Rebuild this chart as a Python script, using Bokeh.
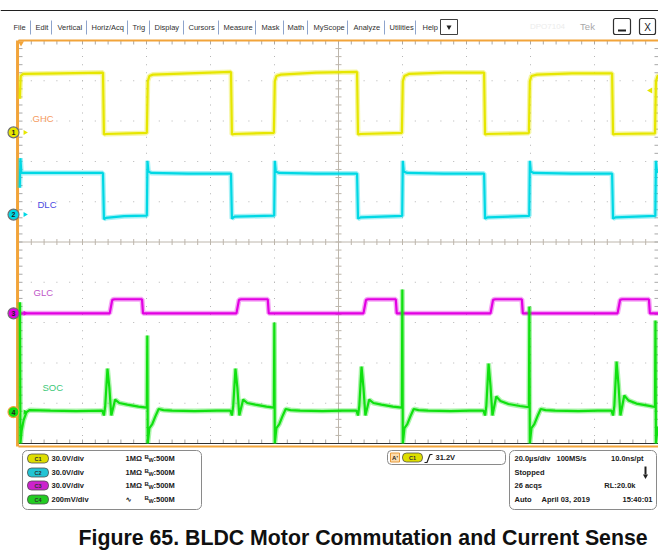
from bokeh.plotting import figure
from bokeh.models import Range1d
from bokeh.core.properties import value
from bokeh.embed import file_html
from bokeh.resources import INLINE
import numpy as np

# ---------------- data ----------------
TIME_PER_DIV_US = 20.0
N_HDIV = 10
N_VDIV = 10
CH_NAMES = ["GHC", "DLC", "GLC", "SOC"]
CH_SCALE = [30.0, 30.0, 30.0, 200.0]        # per division: V, V, V, mV
CH_POS_DIV = [2.72, 0.68, -1.77, -4.22]     # ground-marker position of each channel (div)
CH_COLOR = ["#e6e600", "#00d8e4", "#e200e2", "#10e010"]

# CH1  GHC (V)
GHC_T = [0.4, 0.7, 1.5, 13.0, 26.4, 26.7, 27.5, 40.1, 40.4, 40.9, 42.0, 53.0,
         66.4, 66.7, 67.5, 79.8, 80.1, 80.6, 82.0, 93.0, 105.8, 106.1, 107.0,
         119.8, 120.1, 120.6, 122.0, 133.0, 145.5, 145.8, 146.6, 159.5, 159.8,
         160.3, 162.0, 173.0, 185.5, 185.8, 186.6, 198.9, 199.2, 199.7, 201.0]
GHC_V = [25, 42, 43.5, 44, 44.5, -1.5, -1.2, -0.4, 38, 42, 43, 44,
         45, -1.5, -1.2, -0.4, 38, 42, 43, 44.5, 45, -1.5, -1.2,
         -0.4, 38, 42, 43.5, 44.5, 44.5, -1.5, -1.2, -0.5, 38,
         42, 43, 44, 44, -1.5, -1.2, -0.8, 38, 42, 43]

# CH2  DLC (V)
DLC_T = [0.4, 0.6, 0.9, 13.0, 26.4, 26.7, 27.3, 33.0, 40.1, 40.3, 40.6, 41.5,
         53.0, 66.4, 66.7, 67.5, 79.9, 80.1, 80.4, 81.5, 93.0, 105.8, 106.1,
         107.0, 119.9, 120.1, 120.4, 121.5, 133.0, 145.5, 145.8, 146.6, 159.6,
         159.8, 160.1, 161.0, 173.0, 185.5, 185.8, 186.6, 199.0, 199.2, 199.5, 200.5]
DLC_V = [20, 42, 31, 31, 31, -3.5, -2.5, -1.2, -0.8, 40, 32, 31,
         30.5, 30.5, -3, -1.5, -0.8, 40, 32, 31, 30.5, 30.5, -3,
         -2, -1, 40, 32, 31, 30.5, 30.5, -3, -2, -1,
         40, 32, 31, 30.5, 30.5, -3, -2, -1, 40, 32, 31]

# CH3  GLC (V)
GLC_T = [0.3, 28.5, 29.3, 30.0, 38.6, 38.9, 68.1, 68.9, 69.6, 77.9, 78.2,
         107.8, 108.6, 109.3, 117.9, 118.2, 147.5, 148.3, 149.0, 157.3, 157.6,
         187.2, 188.0, 188.7, 197.0, 197.3, 201.0]
GLC_V = [0, 0, 10, 10.5, 10.5, 0, 0, 10, 10.5, 10.5, 0,
         0, 10, 10.5, 10.5, 0, 0, 10, 10.5, 10.5, 0,
         0, 10, 10.5, 10.5, 0, 0]

# CH4  SOC (mV)
SOC_T = [0.45, 0.6, 1.0, 1.6, 2.5, 3.5,
         10, 18, 26.2, 26.7, 27.1, 27.8, 28.4, 29.0, 30.2, 31.5, 34.0, 37.5, 40.1, 40.25, 40.4, 40.9, 41.8, 42.8, 43.8, 45.3, 48.0,
         55, 62, 66.2, 66.7, 67.1, 67.8, 68.4, 69.0, 70.2, 71.5, 74.0, 77.5, 79.8, 79.95, 80.1, 80.6, 81.5, 82.5, 83.5, 85.0, 88.0,
         95, 101, 105.6, 106.1, 106.5, 107.2, 107.8, 108.4, 109.6, 110.9, 113.4, 117.0, 119.8, 119.95, 120.1, 120.6, 121.5, 122.5, 123.5, 125.0, 128.0,
         135, 141, 145.3, 145.8, 146.2, 146.9, 147.5, 148.1, 149.3, 150.6, 153.1, 156.7, 159.5, 159.65, 159.8, 160.3, 161.2, 162.2, 163.2, 164.7, 167.7,
         175, 181, 185.3, 185.8, 186.2, 186.9, 187.5, 188.1, 189.3, 190.6, 193.1, 196.7, 198.9, 199.05, 199.2, 199.7, 200.6]
SOC_MV = [545, -156, -90, -40, 0, 10,
          7, 5, 7, -17, 30, 216, 120, -17, 62, 45, 37, 27, 22, 380, -156, -80, -60, -20, 15, 10, 7,
          5, 7, 7, -17, 30, 216, 120, -17, 62, 45, 37, 27, 22, 444, -156, -80, -60, -20, 15, 10, 7,
          5, 7, 7, -17, 30, 226, 120, -17, 62, 45, 37, 27, 22, 608, -156, -80, -60, -20, 15, 10, 7,
          5, 7, 7, -17, 30, 241, 130, -17, 77, 55, 40, 30, 24, 524, -156, -80, -60, -20, 15, 10, 7,
          5, 7, 7, -17, 30, 251, 135, -17, 82, 58, 42, 32, 25, 454, -156, -80, -60]

TRACES = [(GHC_T, GHC_V), (DLC_T, DLC_V), (GLC_T, GLC_V), (SOC_T, SOC_MV)]

SETTINGS = [("C1", "30.0V/div", "1MΩ"), ("C2", "30.0V/div", "1MΩ"),
            ("C3", "30.0V/div", "1MΩ"), ("C4", "200mV/div", "∿")]
BANDWIDTH = "500M"
TRIG_LEVEL = "31.2V"
HORIZ = ["20.0µs/div", "100MS/s", "10.0ns/pt"]
ACQ = ["Stopped", "26 acqs", "RL:20.0k", "Auto", "April 03, 2019", "15:40:01"]
MENU = ["File", "Edit", "Vertical", "Horiz/Acq", "Trig", "Display", "Cursors",
        "Measure", "Mask", "Math", "MyScope", "Analyze", "Utilities", "Help"]
CAPTION = "Figure 65. BLDC Motor Commutation and Current Sense"

# ---------------- layout ----------------
W, H = 658, 554
PX_L, PX_T = 0, 0                      # canvas origin in screenshot pixels
GX0, GX1, GY0, GY1 = 18, 658, 40, 443  # graticule, screenshot pixels
us_per_px = TIME_PER_DIV_US * N_HDIV / (GX1 - GX0)
px_per_div = (GY1 - GY0) / N_VDIV
yc = (GY0 + GY1) / 2.0
T_END = TIME_PER_DIV_US * N_HDIV
HALF = N_VDIV / 2

p = figure(width=W, height=H, title=None,
           x_range=Range1d((PX_L - GX0) * us_per_px, (PX_L + W - GX0) * us_per_px),
           y_range=Range1d((yc - (PX_T + H)) / px_per_div, (yc - PX_T) / px_per_div),
           output_backend="svg", toolbar_location=None,
           x_axis_type=None, y_axis_type=None, min_border=0,
           outline_line_color=None, background_fill_color="white",
           border_fill_color="white")
p.extra_x_ranges = {"px": Range1d(PX_L, PX_L + W)}
p.extra_y_ranges = {"py": Range1d(PX_T + H, PX_T)}
PX = dict(x_range_name="px", y_range_name="py")

def txt(x, y, s, size, color="#202020", bold=False, align="left",
        font="Liberation Sans", baseline="middle"):
    p.text(x=[x], y=[y], text=[s], text_font=value(font),
           text_font_size=f"{size}px", text_color=color,
           text_font_style="bold" if bold else "normal",
           text_align=align, text_baseline=baseline, **PX)

# ---------------- graticule ----------------
GRID = "#b4b4b4"
minor_t = np.arange(0, T_END + 0.01, TIME_PER_DIV_US / 5)
minor_d = np.arange(-HALF, HALF + 0.01, 0.2)
vx, vy = [], []
for k in range(1, N_HDIV):
    if k == N_HDIV // 2:
        continue
    for d in minor_d:
        vx.append(k * TIME_PER_DIV_US); vy.append(d)
for k in range(-int(HALF) + 1, int(HALF)):
    if k == 0:
        continue
    for t in minor_t:
        vx.append(t); vy.append(k)
p.rect(vx, vy, width=1, height=1, width_units="screen", height_units="screen",
       fill_color=GRID, line_color=None)

CC = "#bdb6ac"
p.segment([T_END / 2], [-HALF], [T_END / 2], [HALF], line_color=CC, line_width=1)
p.segment([0], [0], [T_END], [0], line_color=CC, line_width=1)
tick_t = 3 * us_per_px
tick_d = 3 / px_per_div
p.segment([T_END / 2 - tick_t] * len(minor_d), list(minor_d),
          [T_END / 2 + tick_t] * len(minor_d), list(minor_d), line_color=CC)
p.segment(list(minor_t), [-tick_d] * len(minor_t), list(minor_t), [tick_d] * len(minor_t),
          line_color=CC)
p.segment(list(minor_t), [HALF] * len(minor_t), list(minor_t), [HALF - 4 / px_per_div] * len(minor_t),
          line_color="#a8a8a8")
p.segment(list(minor_t), [-HALF] * len(minor_t), list(minor_t), [-HALF + 4 / px_per_div] * len(minor_t),
          line_color="#a8a8a8")
p.segment([0] * len(minor_d), list(minor_d), [4 * us_per_px] * len(minor_d), list(minor_d),
          line_color="#a8a8a8")
p.segment([T_END] * len(minor_d), list(minor_d), [T_END - 4 * us_per_px] * len(minor_d), list(minor_d),
          line_color="#a8a8a8")
p.segment([0], [HALF], [T_END], [HALF], line_color="#f2a43a", line_width=2)
p.segment([0], [-HALF], [T_END], [-HALF], line_color="#303030", line_width=1)
p.segment([0], [-HALF - 3 / px_per_div], [T_END], [-HALF - 3 / px_per_div],
          line_color="#f2a43a", line_width=2)
p.segment([-0.3], [HALF], [-0.3], [-HALF - 3 / px_per_div], line_color="#f2a43a", line_width=3)

# ---------------- traces ----------------
for (tt, vv), pos, sc, col in zip(TRACES, CH_POS_DIV, CH_SCALE, CH_COLOR):
    ys = [pos + v / sc for v in vv]
    p.line(tt, ys, line_color=col, line_width=5, line_alpha=0.35)
    p.line(tt, ys, line_color=col, line_width=2.2)

MX = 13
p.scatter([MX] * 4, CH_POS_DIV, marker="circle", size=11, fill_color=CH_COLOR,
          line_color=["#707070", "#707070", "#707070", "#f2a43a"], line_width=1.2,
          x_range_name="px")
p.text([MX] * 4, CH_POS_DIV, text=["1", "2", "3", "4"], text_font=value("Liberation Sans"),
       text_font_size="7px", text_font_style="bold", text_align="center",
       text_baseline="middle", text_color="#202020", x_range_name="px")
p.scatter([24.5] * 4, CH_POS_DIV, marker="triangle", angle=-np.pi / 2, size=5,
          fill_color=CH_COLOR, line_color=None, x_range_name="px")

LBL_POS = [(32, 118), (37, 204), (33, 292), (42, 387)]
LBL_COL = ["#f59a5e", "#4a4ae0", "#c055c8", "#3cc878"]
for name, (lx, ly), lc in zip(CH_NAMES, LBL_POS, LBL_COL):
    txt(lx, ly, name, 9.5, color=lc)

p.scatter([20.5], [42.5], marker="triangle", angle=np.pi, size=6, fill_color="#f2a43a",
          line_color=None, **PX)
p.scatter([650], [90], marker="triangle", angle=np.pi / 2, size=6, fill_color=CH_COLOR[0],
          line_color=None, **PX)

# ---------------- menu bar ----------------
p.segment([PX_L], [10], [PX_L + W], [10], line_color="#202020", line_width=1, **PX)
MENU_X = [13, 35, 57, 91, 132, 154, 188, 223, 261, 287, 313, 353, 389, 422]
SEP_X = [30, 51, 86, 127, 149, 183, 218, 255, 283, 307, 347, 384, 415]
for mx, m in zip(MENU_X, MENU):
    txt(mx, 27, m, 7.5, color="#303030")
p.segment(SEP_X, [20] * len(SEP_X), SEP_X, [34] * len(SEP_X), line_color="#8ea4cc", line_width=1, **PX)
p.quad(left=[440], right=[457], top=[19], bottom=[34], fill_color="white",
       line_color="#404040", line_width=1, **PX)
p.scatter([448.5], [26.5], marker="triangle", angle=np.pi, size=5, fill_color="#202020",
          line_color=None, **PX)
txt(547, 26, "DPO7104", 8, color="#ececec", align="center")
txt(587, 26, "Tek", 9.5, color="#a8a8a8", align="center")
p.quad(left=[613, 639], right=[630, 655], top=[18, 18], bottom=[34, 34], fill_color="white",
       line_color="#303030", line_width=1.2, border_radius=2, **PX)
p.segment([617.5], [30], [625.5], [30], line_color="#202020", line_width=2, **PX)
txt(647, 26.5, "X", 10, color="#202020", align="center")

# ---------------- info boxes ----------------
BOX = "#8a8a8a"
p.quad(left=[22], right=[201], top=[450], bottom=[509], fill_color="white",
       line_color=BOX, line_width=1, border_radius=5, **PX)
BADGE = ["#dede00", "#22c4d4", "#cc22cc", "#22cc22"]
ROW_Y = [458, 472, 485, 499]
p.quad(left=[27] * 4, right=[48] * 4, top=[y - 4.5 for y in ROW_Y],
       bottom=[y + 4.5 for y in ROW_Y], fill_color=BADGE, line_color="#505050",
       line_width=0.8, border_radius=4, **PX)
for (cn, vd, imp), ry in zip(SETTINGS, ROW_Y):
    txt(37.5, ry, cn, 5.5, color="#303030", bold=True, align="center")
    txt(51, ry, vd, 7.5, bold=True)
    txt(125, ry, imp, 7.5, bold=True, font="DejaVu Sans" if imp == "∿" else "Liberation Sans")
    txt(144, ry - 2, "B", 6, bold=True)
    txt(148, ry + 1.5, "W", 5.5, bold=True)
    txt(153, ry, ":" + BANDWIDTH, 7.5, bold=True)

p.quad(left=[387], right=[505], top=[450], bottom=[464], fill_color="white",
       line_color=BOX, line_width=1, border_radius=4, **PX)
p.quad(left=[390], right=[399], top=[452.5], bottom=[461.5], fill_color="#fbdcae",
       line_color="#e79a3a", line_width=1, **PX)
txt(394.5, 457, "A'", 6, bold=True, align="center")
p.quad(left=[402], right=[422], top=[452.5], bottom=[461.5], fill_color=BADGE[0],
       line_color="#505050", line_width=0.8, border_radius=4, **PX)
txt(412, 457, "C1", 5.5, bold=True, align="center", color="#303030")
p.line([424, 426.5, 429.5, 432], [462, 462, 454, 454], line_color="#202020", line_width=1.2, **PX)
txt(435, 457, TRIG_LEVEL, 7.5, bold=True)

p.quad(left=[509], right=[656], top=[450], bottom=[509], fill_color="white",
       line_color=BOX, line_width=1, border_radius=5, **PX)
txt(514, 458, HORIZ[0], 7.5, bold=True)
txt(556, 458, HORIZ[1], 7.5, bold=True)
txt(643, 458, HORIZ[2], 7.5, bold=True, align="right")
txt(514, 472, ACQ[0], 7.5, bold=True)
p.segment([645], [466], [645], [474], line_color="#202020", line_width=2, **PX)
p.scatter([645], [475.5], marker="triangle", angle=np.pi, size=5, fill_color="#202020",
          line_color=None, **PX)
txt(514, 485, ACQ[1], 7.5, bold=True)
txt(635, 485, ACQ[2], 7.5, bold=True, align="right")
txt(514, 499, ACQ[3], 7.5, bold=True)
txt(541, 499, ACQ[4], 7.5, bold=True)
txt(652, 499, ACQ[5], 7.5, bold=True, align="right")

txt(78, 537, CAPTION, 21.3, bold=True, color="#101010", baseline="alphabetic")

open("out.html", "w").write(file_html(p, INLINE))
